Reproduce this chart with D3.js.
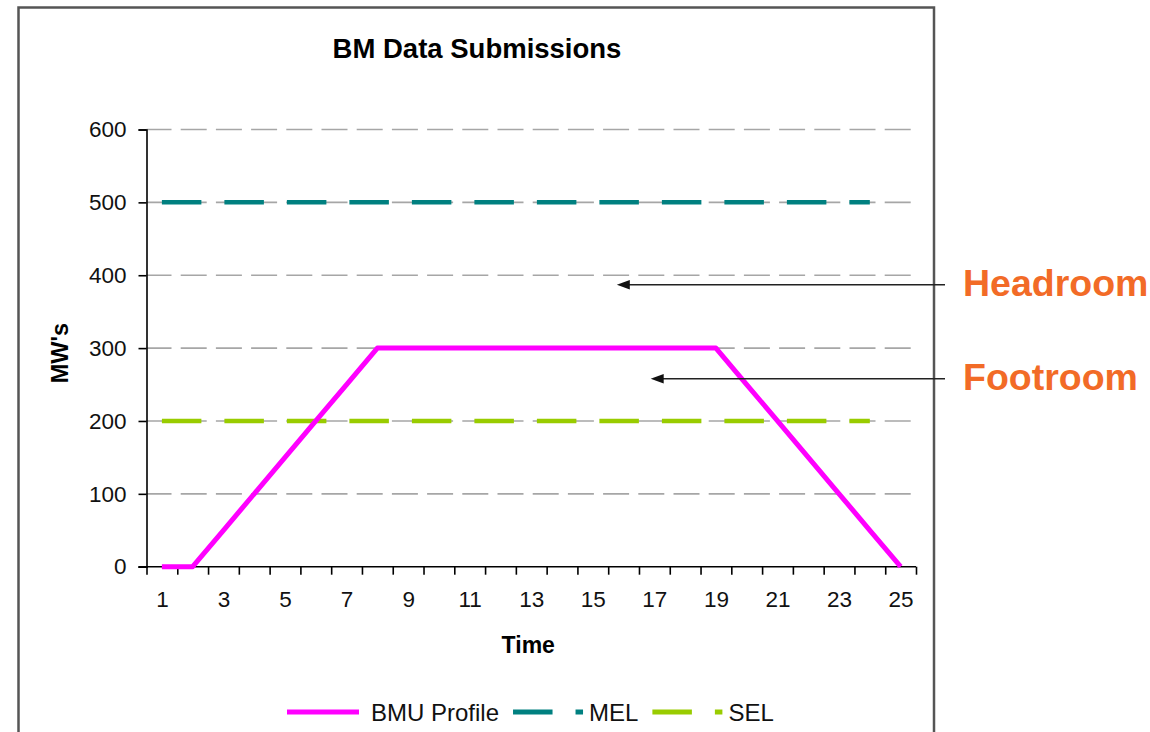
<!DOCTYPE html>
<html>
<head>
<meta charset="utf-8">
<script src="https://cdn.jsdelivr.net/npm/d3@7"></script>
<style>
  html, body { margin: 0; padding: 0; background: #fff; }
  svg { display: block; }
  text { font-family: "Liberation Sans", Arial, sans-serif; }
</style>
</head>
<body>
<svg id="chart" width="1150" height="732"></svg>
<script>
// Half-hourly periods and the submitted levels (MW)
const periods = d3.range(1, 26);
const bmuProfile = [0, 0, 50, 100, 150, 200, 250, 300, 300, 300, 300, 300, 300,
                    300, 300, 300, 300, 300, 300, 250, 200, 150, 100, 50, 0];
const melValues = [500, 500, 500, 500, 500, 500, 500, 500, 500, 500, 500, 500,
                   500, 500, 500, 500, 500, 500, 500, 500, 500, 500, 500, 500];
const selValues = [200, 200, 200, 200, 200, 200, 200, 200, 200, 200, 200, 200,
                   200, 200, 200, 200, 200, 200, 200, 200, 200, 200, 200, 200];
const yTicks = [0, 100, 200, 300, 400, 500, 600];
const xTickLabels = [1, 3, 5, 7, 9, 11, 13, 15, 17, 19, 21, 23, 25];
const seriesNames = ["BMU Profile", "MEL", "SEL"];
const annotations = [
  { label: "Headroom", value: 387, tip: 15.78 },
  { label: "Footroom", value: 258, tip: 16.88 }
];

const svg = d3.select("#chart");

const plot = { left: 146.5, right: 916, top: 129.5, bottom: 566.7 };

const x = d3.scaleLinear().domain([0.5, 25.5]).range([plot.left, plot.right]);
const y = d3.scaleLinear().domain([0, 600]).range([plot.bottom, plot.top]);

const colors = { "BMU Profile": "#ff00ff", "MEL": "#008080", "SEL": "#99cc00" };

// chart frame
svg.append("rect")
  .attr("x", 18.5).attr("y", 7.5)
  .attr("width", 934 - 18.5).attr("height", 760)
  .attr("fill", "none").attr("stroke", "#555").attr("stroke-width", 2.5);

// title
svg.append("text")
  .attr("x", 477).attr("y", 58)
  .attr("text-anchor", "middle")
  .attr("font-size", 27.5).attr("font-weight", "bold")
  .text("BM Data Submissions");

// horizontal gridlines
svg.append("g").selectAll("line")
  .data(yTicks.filter(d => d > 0))
  .join("line")
  .attr("x1", plot.left).attr("x2", plot.right - 4)
  .attr("y1", d => y(d)).attr("y2", d => y(d))
  .attr("stroke", "#a6a6a6").attr("stroke-width", 1.6)
  .attr("stroke-dasharray", "26,9.2")
  .attr("stroke-dashoffset", 1);

// y axis
const yAxis = svg.append("g")
  .attr("transform", `translate(${plot.left},0)`)
  .call(d3.axisLeft(y).tickValues(yTicks).tickSize(8).tickPadding(12));
yAxis.select(".domain").attr("stroke", "#000").attr("stroke-width", 1.6);
yAxis.selectAll(".tick line").attr("stroke", "#000").attr("stroke-width", 1.6);
yAxis.selectAll(".tick text")
  .attr("font-size", 22.5).attr("fill", "#111")
  .attr("font-family", "'Liberation Sans', Arial, sans-serif");

// x axis: ticks on period boundaries
const xAxis = svg.append("g")
  .attr("transform", `translate(0,${plot.bottom})`)
  .call(d3.axisBottom(x).tickValues(d3.range(0.5, 26, 1)).tickSize(8).tickFormat(""));
xAxis.select(".domain").attr("stroke", "#000").attr("stroke-width", 1.6)
  .attr("d", `M${plot.left - 8},0H${plot.right}`);
xAxis.selectAll(".tick line").attr("stroke", "#000").attr("stroke-width", 1.6);

// x axis labels on odd periods
const xLabels = svg.append("g")
  .attr("transform", `translate(0,${plot.bottom})`)
  .call(d3.axisBottom(x).tickValues(xTickLabels).tickSize(0).tickPadding(24));
xLabels.select(".domain").remove();
xLabels.selectAll(".tick text")
  .attr("font-size", 22.5).attr("fill", "#111")
  .attr("font-family", "'Liberation Sans', Arial, sans-serif");

// axis titles
svg.append("text")
  .attr("x", (plot.left + plot.right) / 2 - 3).attr("y", 653)
  .attr("text-anchor", "middle")
  .attr("font-size", 23).attr("font-weight", "bold")
  .text("Time");

svg.append("text")
  .attr("transform", `translate(68,${(plot.top + plot.bottom) / 2 + 5}) rotate(-90)`)
  .attr("text-anchor", "middle")
  .attr("font-size", 23.5).attr("font-weight", "bold")
  .text("MW's");

// series lines
const line = d3.line().x(d => x(d[0])).y(d => y(d[1]));

const limitDash = "39.5,23";

svg.append("path")
  .datum(melValues.map((v, i) => [periods[i], v]))
  .attr("d", line)
  .attr("fill", "none").attr("stroke", colors.MEL)
  .attr("stroke-width", 4.5).attr("stroke-dasharray", limitDash);

svg.append("path")
  .datum(selValues.map((v, i) => [periods[i], v]))
  .attr("d", line)
  .attr("fill", "none").attr("stroke", colors.SEL)
  .attr("stroke-width", 4.5).attr("stroke-dasharray", limitDash);

svg.append("path")
  .datum(bmuProfile.map((v, i) => [periods[i], v]))
  .attr("d", line)
  .attr("fill", "none").attr("stroke", colors["BMU Profile"])
  .attr("stroke-width", 5).attr("stroke-linejoin", "round");

// legend
const legend = svg.append("g").attr("transform", "translate(287,712)");
let lx = 0;
seriesNames.forEach(name => {
  const item = legend.append("g").attr("transform", `translate(${lx},0)`);
  const symLen = name === "BMU Profile" ? 72 : 70;
  const textGap = name === "BMU Profile" ? 84 : 76;
  item.append("line")
    .attr("x1", 0).attr("x2", symLen)
    .attr("y1", 0).attr("y2", 0)
    .attr("stroke", colors[name])
    .attr("stroke-width", 5)
    .attr("stroke-dasharray", name === "BMU Profile" ? null : limitDash);
  const t = item.append("text")
    .attr("x", textGap).attr("y", 8.5)
    .attr("font-size", 24).attr("fill", "#111")
    .text(name);
  lx += textGap + t.node().getComputedTextLength() + 14;
});

// headroom / footroom annotations
annotations.forEach(a => {
  const yy = y(a.value);
  const tipX = x(a.tip);
  svg.append("line")
    .attr("x1", 945).attr("x2", tipX + 10)
    .attr("y1", yy).attr("y2", yy)
    .attr("stroke", "#222").attr("stroke-width", 1.6);
  svg.append("path")
    .attr("d", `M${tipX},${yy}L${tipX + 13},${yy - 4.8}L${tipX + 13},${yy + 4.8}Z`)
    .attr("fill", "#111");
  svg.append("text")
    .attr("x", 963).attr("y", yy + 11)
    .attr("font-family", "Lato, 'Open Sans', sans-serif")
    .attr("font-size", 37.5).attr("font-weight", "bold")
    .attr("fill", "#f26b27")
    .text(a.label);
});
</script>
</body>
</html>
